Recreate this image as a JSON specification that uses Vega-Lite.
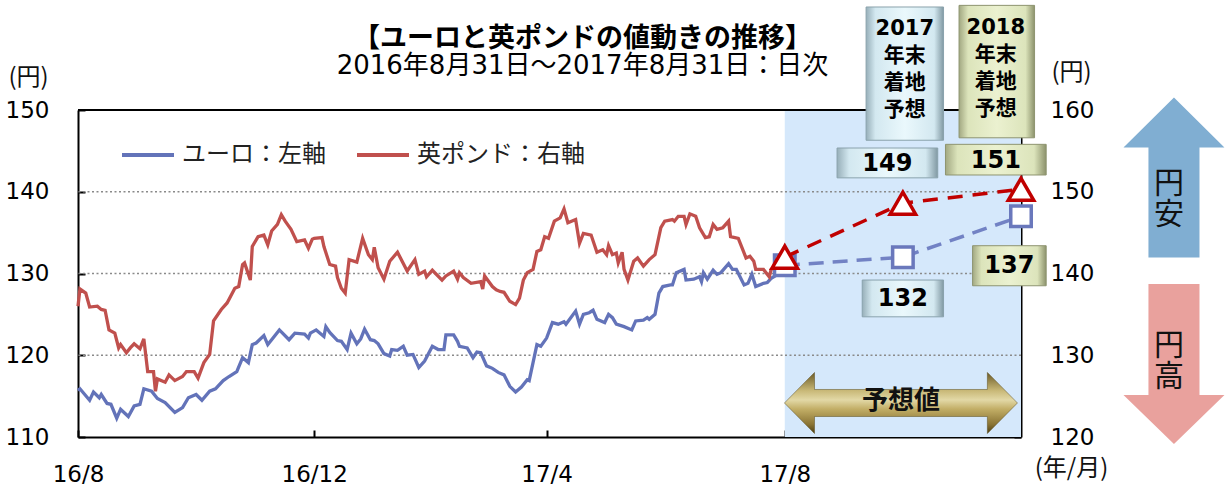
{
 "$schema": "https://vega.github.io/schema/vega-lite/v6.json",
 "width": 943, "height": 327,
 "autosize": "none",
 "padding": {"left": 78, "top": 110, "right": 209, "bottom": 47},
 "background": "white",
 "title": {"text": "【ユーロと英ポンドの値動きの推移】", "subtitle": "2016年8月31日～2017年8月31日：日次", "frame": "group", "anchor": "middle", "dx": 33, "offset": -75, "font": "Noto Sans CJK JP", "fontSize": 27, "fontWeight": "bold", "color": "#000", "subtitleFont": "DejaVu Sans, Noto Sans CJK JP", "subtitleFontSize": 26, "subtitleColor": "#000", "subtitlePadding": 0},
 "datasets": {
  "eur": [
   {"d":"2016-08-31","v":115.7},{"d":"2016-09-01","v":115.9},{"d":"2016-09-06","v":114.5},{"d":"2016-09-08","v":115.5},{"d":"2016-09-11","v":114.8},{"d":"2016-09-12","v":115.2},{"d":"2016-09-15","v":114.1},{"d":"2016-09-17","v":114.0},{"d":"2016-09-20","v":112.3},{"d":"2016-09-22","v":113.4},{"d":"2016-09-26","v":112.5},{"d":"2016-09-29","v":113.8},{"d":"2016-10-02","v":114.0},{"d":"2016-10-04","v":115.9},{"d":"2016-10-08","v":115.6},{"d":"2016-10-11","v":114.7},{"d":"2016-10-15","v":114.2},{"d":"2016-10-20","v":113.0},{"d":"2016-10-24","v":113.6},{"d":"2016-10-27","v":114.8},{"d":"2016-10-31","v":115.2},{"d":"2016-11-03","v":114.5},{"d":"2016-11-07","v":115.6},{"d":"2016-11-10","v":115.9},{"d":"2016-11-14","v":116.9},{"d":"2016-11-17","v":117.4},{"d":"2016-11-21","v":118.0},{"d":"2016-11-24","v":119.7},{"d":"2016-11-27","v":119.1},{"d":"2016-11-29","v":121.3},{"d":"2016-12-01","v":121.5},{"d":"2016-12-05","v":122.4},{"d":"2016-12-07","v":121.3},{"d":"2016-12-09","v":121.9},{"d":"2016-12-13","v":123.1},{"d":"2016-12-18","v":121.9},{"d":"2016-12-21","v":122.7},{"d":"2016-12-26","v":122.6},{"d":"2016-12-28","v":122.1},{"d":"2016-12-29","v":122.7},
   {"d":"2017-01-01","v":123.1},{"d":"2017-01-03","v":122.7},{"d":"2017-01-05","v":122.3},{"d":"2017-01-06","v":123.5},{"d":"2017-01-08","v":122.8},{"d":"2017-01-12","v":121.8},{"d":"2017-01-14","v":121.7},{"d":"2017-01-17","v":120.7},{"d":"2017-01-19","v":122.7},{"d":"2017-01-22","v":121.4},{"d":"2017-01-24","v":122.0},{"d":"2017-01-26","v":123.2},{"d":"2017-01-29","v":121.9},{"d":"2017-01-31","v":121.8},{"d":"2017-02-02","v":121.4},{"d":"2017-02-05","v":120.2},{"d":"2017-02-08","v":119.9},{"d":"2017-02-09","v":120.7},{"d":"2017-02-12","v":120.6},{"d":"2017-02-15","v":121.1},{"d":"2017-02-17","v":120.0},{"d":"2017-02-20","v":120.1},{"d":"2017-02-23","v":118.5},{"d":"2017-02-26","v":119.3},{"d":"2017-03-02","v":121.1},{"d":"2017-03-05","v":120.7},{"d":"2017-03-08","v":120.7},{"d":"2017-03-09","v":122.5},{"d":"2017-03-13","v":122.5},{"d":"2017-03-15","v":121.7},{"d":"2017-03-16","v":121.1},{"d":"2017-03-20","v":120.9},{"d":"2017-03-23","v":119.7},{"d":"2017-03-25","v":120.4},{"d":"2017-03-27","v":120.3},{"d":"2017-03-30","v":118.7},{"d":"2017-04-02","v":118.4},{"d":"2017-04-05","v":117.9},{"d":"2017-04-08","v":117.6},{"d":"2017-04-11","v":116.2},{"d":"2017-04-14","v":115.5},{"d":"2017-04-17","v":116.1},{"d":"2017-04-20","v":117.0},{"d":"2017-04-21","v":116.9},{"d":"2017-04-23","v":119.1},{"d":"2017-04-25","v":121.3},{"d":"2017-04-27","v":121.1},{"d":"2017-04-30","v":122.1},
   {"d":"2017-05-03","v":124.0},{"d":"2017-05-06","v":123.8},{"d":"2017-05-09","v":124.1},{"d":"2017-05-10","v":123.8},{"d":"2017-05-15","v":125.4},{"d":"2017-05-17","v":123.8},{"d":"2017-05-19","v":125.0},{"d":"2017-05-22","v":125.2},{"d":"2017-05-24","v":125.5},{"d":"2017-05-26","v":124.4},{"d":"2017-05-30","v":124.0},{"d":"2017-06-01","v":125.0},{"d":"2017-06-03","v":124.6},{"d":"2017-06-05","v":123.8},{"d":"2017-06-09","v":123.5},{"d":"2017-06-13","v":123.1},{"d":"2017-06-15","v":124.2},{"d":"2017-06-19","v":124.3},{"d":"2017-06-21","v":124.6},{"d":"2017-06-22","v":124.4},{"d":"2017-06-25","v":125.0},{"d":"2017-06-27","v":127.6},{"d":"2017-06-29","v":128.4},{"d":"2017-07-03","v":128.6},{"d":"2017-07-04","v":128.6},{"d":"2017-07-06","v":130.1},{"d":"2017-07-10","v":130.5},{"d":"2017-07-11","v":129.2},{"d":"2017-07-15","v":129.3},{"d":"2017-07-18","v":129.6},{"d":"2017-07-19","v":129.0},{"d":"2017-07-20","v":130.1},{"d":"2017-07-22","v":129.3},{"d":"2017-07-25","v":130.4},{"d":"2017-07-27","v":129.9},{"d":"2017-07-29","v":130.1},{"d":"2017-08-02","v":131.2},{"d":"2017-08-04","v":130.5},{"d":"2017-08-06","v":130.5},{"d":"2017-08-10","v":128.6},{"d":"2017-08-12","v":128.8},{"d":"2017-08-14","v":129.9},{"d":"2017-08-16","v":128.4},{"d":"2017-08-20","v":128.8},{"d":"2017-08-22","v":128.9},{"d":"2017-08-24","v":129.4},{"d":"2017-08-26","v":129.7},{"d":"2017-08-28","v":130.3},{"d":"2017-08-31","v":131.0}
  ],
  "gbp": [
   {"d":"2016-08-31","v":136.0},{"d":"2016-09-01","v":138.1},{"d":"2016-09-04","v":137.6},{"d":"2016-09-06","v":135.9},{"d":"2016-09-10","v":136.0},{"d":"2016-09-12","v":135.6},{"d":"2016-09-14","v":135.5},{"d":"2016-09-16","v":133.1},{"d":"2016-09-19","v":132.7},{"d":"2016-09-21","v":130.9},{"d":"2016-09-22","v":131.3},{"d":"2016-09-25","v":130.3},{"d":"2016-09-27","v":130.9},{"d":"2016-09-29","v":131.4},{"d":"2016-10-02","v":130.8},{"d":"2016-10-04","v":132.0},{"d":"2016-10-06","v":128.0},{"d":"2016-10-09","v":128.0},{"d":"2016-10-10","v":125.6},{"d":"2016-10-11","v":127.1},{"d":"2016-10-15","v":126.7},{"d":"2016-10-17","v":127.6},{"d":"2016-10-20","v":126.9},{"d":"2016-10-24","v":127.4},{"d":"2016-10-26","v":128.0},{"d":"2016-10-30","v":128.0},{"d":"2016-11-01","v":127.2},{"d":"2016-11-04","v":129.1},{"d":"2016-11-07","v":130.1},{"d":"2016-11-09","v":134.2},{"d":"2016-11-13","v":135.6},{"d":"2016-11-16","v":136.4},{"d":"2016-11-20","v":138.2},{"d":"2016-11-22","v":138.4},{"d":"2016-11-24","v":141.1},{"d":"2016-11-25","v":141.3},{"d":"2016-11-28","v":139.2},{"d":"2016-11-29","v":143.3},{"d":"2016-12-02","v":144.5},{"d":"2016-12-05","v":144.7},{"d":"2016-12-07","v":143.5},{"d":"2016-12-09","v":145.2},{"d":"2016-12-12","v":146.0},{"d":"2016-12-14","v":147.2},{"d":"2016-12-16","v":146.4},{"d":"2016-12-19","v":145.4},{"d":"2016-12-22","v":143.9},{"d":"2016-12-26","v":144.1},{"d":"2016-12-28","v":143.1},{"d":"2016-12-30","v":144.2},{"d":"2016-12-31","v":144.3},
   {"d":"2017-01-04","v":144.4},{"d":"2017-01-05","v":143.3},{"d":"2017-01-08","v":141.1},{"d":"2017-01-11","v":140.9},{"d":"2017-01-12","v":139.5},{"d":"2017-01-14","v":138.2},{"d":"2017-01-16","v":137.6},{"d":"2017-01-18","v":141.7},{"d":"2017-01-22","v":141.4},{"d":"2017-01-25","v":144.3},{"d":"2017-01-28","v":142.3},{"d":"2017-01-30","v":141.7},{"d":"2017-01-31","v":143.2},{"d":"2017-02-02","v":140.7},{"d":"2017-02-05","v":139.3},{"d":"2017-02-08","v":141.5},{"d":"2017-02-12","v":142.6},{"d":"2017-02-17","v":140.3},{"d":"2017-02-21","v":141.7},{"d":"2017-02-23","v":139.9},{"d":"2017-02-26","v":140.3},{"d":"2017-02-27","v":139.6},{"d":"2017-03-02","v":140.4},{"d":"2017-03-07","v":139.2},{"d":"2017-03-09","v":139.7},{"d":"2017-03-13","v":140.3},{"d":"2017-03-15","v":139.3},{"d":"2017-03-16","v":140.1},{"d":"2017-03-18","v":139.5},{"d":"2017-03-22","v":138.8},{"d":"2017-03-27","v":139.0},{"d":"2017-03-28","v":138.1},{"d":"2017-03-29","v":139.7},{"d":"2017-04-02","v":138.4},{"d":"2017-04-04","v":138.0},{"d":"2017-04-06","v":137.8},{"d":"2017-04-08","v":137.7},{"d":"2017-04-11","v":136.6},{"d":"2017-04-14","v":136.2},{"d":"2017-04-16","v":137.0},{"d":"2017-04-18","v":139.2},{"d":"2017-04-20","v":140.1},{"d":"2017-04-23","v":140.5},{"d":"2017-04-25","v":142.7},{"d":"2017-04-27","v":142.9},{"d":"2017-04-29","v":144.5},
   {"d":"2017-05-01","v":144.3},{"d":"2017-05-04","v":146.4},{"d":"2017-05-07","v":146.8},{"d":"2017-05-09","v":147.9},{"d":"2017-05-11","v":146.2},{"d":"2017-05-15","v":146.6},{"d":"2017-05-17","v":143.7},{"d":"2017-05-19","v":144.9},{"d":"2017-05-23","v":144.7},{"d":"2017-05-26","v":142.6},{"d":"2017-05-29","v":142.9},{"d":"2017-05-31","v":142.3},{"d":"2017-06-01","v":143.4},{"d":"2017-06-03","v":142.3},{"d":"2017-06-05","v":142.5},{"d":"2017-06-06","v":141.3},{"d":"2017-06-08","v":142.6},{"d":"2017-06-09","v":140.5},{"d":"2017-06-11","v":139.2},{"d":"2017-06-14","v":141.5},{"d":"2017-06-16","v":141.9},{"d":"2017-06-19","v":140.9},{"d":"2017-06-22","v":141.7},{"d":"2017-06-25","v":142.3},{"d":"2017-06-28","v":145.6},{"d":"2017-06-30","v":146.4},{"d":"2017-07-04","v":146.6},{"d":"2017-07-05","v":146.4},{"d":"2017-07-07","v":147.0},{"d":"2017-07-10","v":147.0},{"d":"2017-07-11","v":146.0},{"d":"2017-07-13","v":147.3},{"d":"2017-07-16","v":147.0},{"d":"2017-07-18","v":145.6},{"d":"2017-07-21","v":144.4},{"d":"2017-07-23","v":144.5},{"d":"2017-07-25","v":146.0},{"d":"2017-07-27","v":145.4},{"d":"2017-07-30","v":145.6},{"d":"2017-08-02","v":146.4},{"d":"2017-08-03","v":144.5},{"d":"2017-08-07","v":144.3},{"d":"2017-08-09","v":143.1},{"d":"2017-08-11","v":141.9},{"d":"2017-08-13","v":142.1},{"d":"2017-08-15","v":141.5},{"d":"2017-08-16","v":140.5},{"d":"2017-08-20","v":140.5},{"d":"2017-08-23","v":139.6},{"d":"2017-08-24","v":140.5},{"d":"2017-08-28","v":141.0},{"d":"2017-08-31","v":142.0}
  ],
  "eurf": [{"d":"2017-08-31","v":131.0},{"d":"2017-10-31","v":132.0},{"d":"2017-12-31","v":137.0}],
  "gbpf": [{"d":"2017-08-31","v":142.0},{"d":"2017-10-31","v":148.6},{"d":"2017-12-31","v":150.3}],
  "boxes": [
   {"x1":"2017-10-12","x2":"2017-11-21","y1":162.6,"y2":146.3,"k":"blue"},
   {"x1":"2017-11-29","x2":"2018-01-07","y1":162.8,"y2":146.6,"k":"green"},
   {"x1":"2017-09-27","x2":"2017-11-18","y1":145.35,"y2":141.7,"k":"blue"},
   {"x1":"2017-11-22","x2":"2018-01-13","y1":145.8,"y2":142.05,"k":"green"},
   {"x1":"2017-10-10","x2":"2017-11-21","y1":129.2,"y2":124.7,"k":"blue"},
   {"x1":"2017-12-06","x2":"2018-01-13","y1":133.4,"y2":128.5,"k":"green"}
  ],
  "heads": [{"d":"2017-11-01","v":159.9,"t":"2017\n年末\n着地\n予想"},{"d":"2017-12-18","v":160.0,"t":"2018\n年末\n着地\n予想"}],
  "nums": [{"d":"2017-10-23","v":143.4,"t":"149"},{"d":"2017-12-18","v":143.8,"t":"151"},{"d":"2017-10-31","v":126.9,"t":"132"},{"d":"2017-12-25","v":130.9,"t":"137"}],
  "arrows": [{"d":"2017-10-30","v":114.16,"k":"both","t":"予想値","tv":114.4},{"d":"2018-03-20","v":141.74,"k":"up","t":"円\n安","tv":140.95},{"d":"2018-03-20","v":118.93,"k":"down","t":"円\n高","tv":121.13}]
 },
 "config": {
  "view": {"stroke": null},
  "axis": {"grid": false, "domainColor": "#000", "domainWidth": 2, "tickColor": "#000", "tickWidth": 2, "tickSize": -7, "labelFont": "DejaVu Sans", "labelFontSize": 23, "labelColor": "#000", "titleFont": "Noto Sans CJK JP", "titleFontSize": 24, "titleFontWeight": "normal", "titleColor": "#111", "titleAngle": 0, "titleAlign": "center", "titleBaseline": "middle"},
  "legend": {"orient": "none", "legendX": 42, "legendY": 17, "direction": "horizontal", "padding": 0, "symbolType": "stroke", "symbolSize": 2704, "symbolStrokeWidth": 4, "labelFont": "Noto Sans CJK JP", "labelFontSize": 24, "labelColor": "#222", "labelOffset": 6, "columnPadding": 23, "labelLimit": 400, "title": null}
 },
 "layer": [
  {
   "layer": [
    {
     "data": {"values": [{"s": "2017-08-31", "e": "2017-12-31"}]},
     "mark": {"type": "rect", "color": "#d5e8fb"},
     "encoding": {
      "x": {"field": "s", "type": "temporal", "scale": {"type": "utc", "domain": [{"year": 2016, "month": 8, "date": 31, "utc": true}, {"year": 2017, "month": 12, "date": 31, "utc": true}]},
            "axis": {"values": [{"year": 2016, "month": 8, "date": 31, "utc": true}, {"year": 2016, "month": 12, "date": 31, "utc": true}, {"year": 2017, "month": 4, "date": 30, "utc": true}, {"year": 2017, "month": 8, "date": 31, "utc": true}], "format": "%y/%-m", "labelFlush": false, "labelPadding": 33, "labelBaseline": "top", "title": "(年/月)", "titleX": 993, "titleY": 31}},
      "x2": {"field": "e"},
      "y": {"datum": 150, "type": "quantitative", "scale": {"domain": [110, 150], "nice": false, "zero": false}, "axis": {"orient": "left", "values": [110, 120, 130, 140, 150], "labelPadding": 36, "title": "(円)", "titleX": -50, "titleY": -33}},
      "y2": {"datum": 110}
     }
    },
    {
     "data": {"values": [{"g": 120}, {"g": 130}, {"g": 140}]},
     "mark": {"type": "rule", "color": "#8a8a8a", "strokeWidth": 1.5, "strokeDash": [2, 2.5]},
     "encoding": {"y": {"field": "g", "type": "quantitative"}}
    },
    {
     "data": {"values": [{"g": 150}]},
     "mark": {"type": "rule", "color": "#000", "strokeWidth": 2},
     "encoding": {"y": {"field": "g", "type": "quantitative"}}
    },
    {
     "data": {"name": "eur"},
     "mark": {"type": "line", "strokeWidth": 3.3},
     "encoding": {
      "x": {"field": "d", "type": "temporal"},
      "y": {"field": "v", "type": "quantitative"},
      "color": {"datum": "ユーロ：左軸", "type": "nominal", "scale": {"domain": ["ユーロ：左軸", "英ポンド：右軸"], "range": ["#6373b9", "#c0504d"]}}
     }
    },
    {
     "data": {"name": "eurf"},
     "mark": {"type": "line", "color": "#7282c4", "strokeWidth": 3.5, "strokeDash": [15, 9]},
     "encoding": {"x": {"field": "d", "type": "temporal"}, "y": {"field": "v", "type": "quantitative"}}
    },
    {
     "data": {"name": "eurf"},
     "mark": {"type": "point", "shape": "square", "size": 420, "filled": true, "fill": "white", "stroke": "#6a78bc", "strokeWidth": 3.5, "opacity": 1},
     "encoding": {"x": {"field": "d", "type": "temporal"}, "y": {"field": "v", "type": "quantitative"}}
    },
    {
     "data": {"name": "boxes"},
     "transform": [{"filter": "datum.k === 'blue'"}],
     "mark": {"type": "rect", "stroke": "#8aa2ac", "strokeWidth": 1, "fill": {"gradient": "linear", "x1": 0, "y1": 0, "x2": 1, "y2": 0, "stops": [{"offset": 0, "color": "#97afb9"}, {"offset": 0.12, "color": "#d3e8f0"}, {"offset": 0.5, "color": "#eaf8fc"}, {"offset": 0.88, "color": "#d3e8f0"}, {"offset": 1, "color": "#8199a3"}]}},
     "encoding": {"x": {"field": "x1", "type": "temporal"}, "x2": {"field": "x2"}, "y": {"field": "y1", "type": "quantitative"}, "y2": {"field": "y2"}}
    },
    {
     "data": {"name": "boxes"},
     "transform": [{"filter": "datum.k === 'green'"}],
     "mark": {"type": "rect", "stroke": "#8e9470", "strokeWidth": 1, "fill": {"gradient": "linear", "x1": 0, "y1": 0, "x2": 1, "y2": 0, "stops": [{"offset": 0, "color": "#a2a882"}, {"offset": 0.12, "color": "#dce4bb"}, {"offset": 0.5, "color": "#ebf1d0"}, {"offset": 0.88, "color": "#dce4bb"}, {"offset": 1, "color": "#8c926c"}]}},
     "encoding": {"x": {"field": "x1", "type": "temporal"}, "x2": {"field": "x2"}, "y": {"field": "y1", "type": "quantitative"}, "y2": {"field": "y2"}}
    },
    {
     "data": {"name": "heads"},
     "mark": {"type": "text", "font": "DejaVu Sans, Noto Sans CJK JP", "fontWeight": "bold", "fontSize": 21, "lineBreak": "\n", "lineHeight": 27, "baseline": "middle", "align": "center", "color": "#000"},
     "encoding": {"x": {"field": "d", "type": "temporal"}, "y": {"field": "v", "type": "quantitative"}, "text": {"field": "t"}}
    },
    {
     "data": {"name": "nums"},
     "mark": {"type": "text", "font": "DejaVu Sans", "fontWeight": "bold", "fontSize": 24, "baseline": "middle", "align": "center", "color": "#000"},
     "encoding": {"x": {"field": "d", "type": "temporal"}, "y": {"field": "v", "type": "quantitative"}, "text": {"field": "t"}}
    },
    {
     "data": {"name": "arrows"},
     "transform": [{"filter": "datum.k === 'both'"}],
     "mark": {"type": "point", "shape": "M-1,0L-0.742,-0.262L-0.742,-0.116L0.742,-0.116L0.742,-0.262L1,0L0.742,0.262L0.742,0.116L-0.742,0.116L-0.742,0.262Z", "size": 54289, "filled": true, "opacity": 1, "stroke": "#5a4a1a", "strokeWidth": 0.5, "fill": {"gradient": "linear", "x1": 0, "y1": 0, "x2": 0, "y2": 1, "stops": [{"offset": 0, "color": "#6b5a26"}, {"offset": 0.3, "color": "#c9b978"}, {"offset": 0.45, "color": "#e2d8a6"}, {"offset": 0.6, "color": "#c2ae66"}, {"offset": 0.85, "color": "#8a7434"}, {"offset": 1, "color": "#4d3f12"}]}},
     "encoding": {"x": {"field": "d", "type": "temporal"}, "y": {"field": "v", "type": "quantitative"}}
    },
    {
     "data": {"name": "arrows"},
     "transform": [{"filter": "datum.k === 'up'"}],
     "mark": {"type": "point", "shape": "M0,-1L0.631,-0.375L0.319,-0.375L0.319,1L-0.319,1L-0.319,-0.375L-0.631,-0.375Z", "size": 25600, "filled": true, "opacity": 1, "fill": "#80aed2", "strokeWidth": 0},
     "encoding": {"x": {"field": "d", "type": "temporal"}, "y": {"field": "v", "type": "quantitative"}}
    },
    {
     "data": {"name": "arrows"},
     "transform": [{"filter": "datum.k === 'down'"}],
     "mark": {"type": "point", "shape": "M-0.319,-1L0.319,-1L0.319,0.3875L0.631,0.3875L0,1L-0.631,0.3875L-0.319,0.3875Z", "size": 25600, "filled": true, "opacity": 1, "fill": "#e9a19d", "strokeWidth": 0},
     "encoding": {"x": {"field": "d", "type": "temporal"}, "y": {"field": "v", "type": "quantitative"}}
    },
    {
     "data": {"name": "arrows"},
     "transform": [{"filter": "datum.k === 'both'"}],
     "mark": {"type": "text", "font": "Noto Sans CJK JP", "fontWeight": "bold", "fontSize": 26, "baseline": "middle", "align": "center", "color": "#111"},
     "encoding": {"x": {"field": "d", "type": "temporal"}, "y": {"field": "tv", "type": "quantitative"}, "text": {"field": "t"}}
    },
    {
     "data": {"name": "arrows"},
     "transform": [{"filter": "datum.k !== 'both'"}],
     "mark": {"type": "text", "font": "Noto Sans CJK JP", "fontSize": 30, "lineBreak": "\n", "lineHeight": 31, "baseline": "middle", "align": "center", "color": "#111", "dx": -5},
     "encoding": {"x": {"field": "d", "type": "temporal"}, "y": {"field": "tv", "type": "quantitative"}, "text": {"field": "t"}}
    }
   ]
  },
  {
   "layer": [
    {
     "data": {"name": "gbp"},
     "mark": {"type": "line", "strokeWidth": 3.3},
     "encoding": {
      "x": {"field": "d", "type": "temporal"},
      "y": {"field": "v", "type": "quantitative", "scale": {"domain": [120, 160], "nice": false, "zero": false}, "axis": {"orient": "right", "values": [120, 130, 140, 150, 160], "labelPadding": 36, "labelAlign": "left", "title": "(円)", "titleX": 50, "titleY": -38}},
      "color": {"datum": "英ポンド：右軸", "type": "nominal"}
     }
    },
    {
     "data": {"name": "gbpf"},
     "mark": {"type": "line", "color": "#c00000", "strokeWidth": 3.5, "strokeDash": [15, 10]},
     "encoding": {"x": {"field": "d", "type": "temporal"}, "y": {"field": "v", "type": "quantitative"}}
    },
    {
     "data": {"name": "gbpf"},
     "mark": {"type": "point", "shape": "triangle-up", "size": 650, "filled": true, "fill": "white", "stroke": "#c00000", "strokeWidth": 3.5, "opacity": 1},
     "encoding": {"x": {"field": "d", "type": "temporal"}, "y": {"field": "v", "type": "quantitative"}}
    }
   ]
  }
 ],
 "resolve": {"scale": {"y": "independent"}}
}
